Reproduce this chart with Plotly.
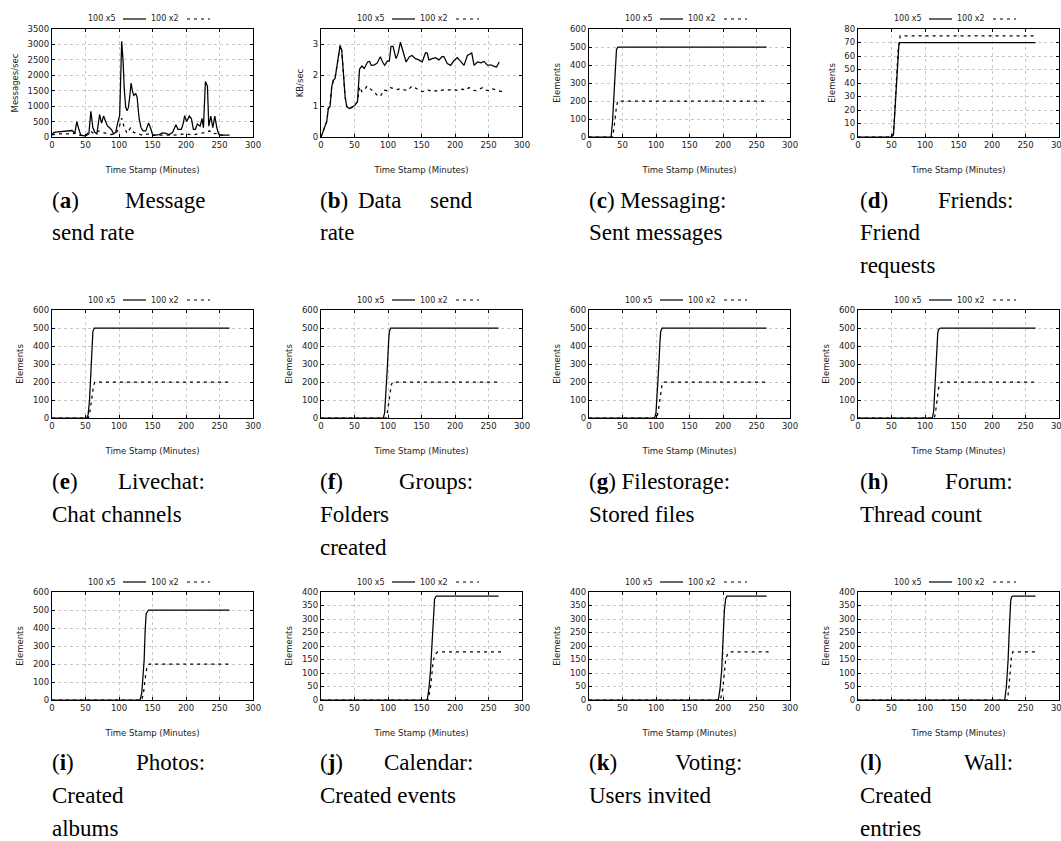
import plotly.graph_objects as go

# ---------------- data ----------------
X_TICKS = [0, 50, 100, 150, 200, 250, 300]
SERIES_NAMES = ["100 x5", "100 x2"]

# (a) Message send rate
a_x5_t = [0, 3, 6, 12, 18, 24, 30, 34, 37, 40,
          43, 48, 52, 55, 58, 61, 64, 67, 71, 74,
          77, 80, 83, 86, 89, 92, 95, 98, 101, 104,
          106, 108, 110, 112, 114, 116, 118, 120, 122, 125,
          127, 130, 133, 136, 140, 144, 147, 150, 155, 160,
          165, 170, 175, 180, 185, 188, 193, 196, 198, 201,
          205, 208, 211, 214, 217, 221, 224, 226, 229, 232,
          234, 237, 240, 243, 246, 249, 255, 265]
a_x5_v = [80, 150, 160, 170, 190, 200, 210, 120, 500, 250,
          60, 40, 60, 100, 830, 300, 150, 100, 730, 450,
          680, 500, 350, 300, 230, 100, 150, 450, 700, 3100,
          2500, 1500, 970, 850, 950, 1300, 1750, 1500, 1350, 1400,
          1300, 600, 300, 200, 200, 450, 300, 80, 60, 80,
          130, 120, 80, 150, 400, 250, 250, 450, 690, 500,
          680, 600, 250, 250, 420, 350, 600, 300, 1800, 1650,
          350, 680, 300, 680, 300, 80, 60, 60]
a_x2_t = [0, 10, 20, 30, 36, 40, 50, 57, 62, 70,
          75, 80, 88, 95, 100, 104, 108, 112, 117, 122,
          128, 135, 145, 150, 160, 170, 180, 190, 200, 210,
          220, 230, 235, 240, 245, 250, 260]
a_x2_v = [70, 100, 100, 100, 130, 60, 50, 200, 120, 200,
          150, 120, 80, 100, 300, 610, 300, 120, 290, 150,
          100, 60, 100, 50, 60, 50, 60, 80, 100, 70,
          100, 150, 200, 100, 120, 60, 50]

# (b) Data send rate
b_x5_t = [0, 8.5, 11, 13.5, 16, 18.5, 21, 23.5, 28.5, 31,
          34.5, 36, 38.5, 42, 46, 51, 54.5, 57.5, 61, 64.5,
          69.5, 72.5, 75, 80, 84, 88.5, 92, 95, 99, 102,
          104.5, 107.5, 112, 115, 118.5, 122.5, 127, 132, 136, 141,
          146, 151, 156, 158.5, 161, 166, 171, 176, 181, 183.5,
          188.5, 193.5, 198.5, 203.5, 208.5, 213.5, 218.5, 222, 225, 228.5,
          233.5, 238.5, 243.5, 248.5, 253.5, 258.5, 262, 266]
b_x5_v = [0, 0.5, 0.93, 0.98, 1.63, 1.84, 1.9, 2.27, 2.97, 2.8,
          1.52, 1.3, 0.98, 0.92, 0.96, 1.04, 1.15, 2.2, 2.3, 2.22,
          2.43, 2.45, 2.32, 2.34, 2.4, 2.6, 2.43, 2.32, 2.46, 2.46,
          2.94, 2.94, 2.54, 2.7, 3.07, 2.75, 2.43, 2.6, 2.64, 2.54,
          2.5, 2.43, 2.73, 2.72, 2.5, 2.54, 2.57, 2.5, 2.61, 2.6,
          2.38, 2.32, 2.48, 2.57, 2.43, 2.32, 2.64, 2.68, 2.72, 2.32,
          2.43, 2.4, 2.45, 2.32, 2.34, 2.29, 2.27, 2.43]
b_x2_t = [0, 8.5, 11, 13.5, 16, 18.5, 21, 23.5, 28.5, 31,
          34.5, 36, 38.5, 42, 46, 51, 54.5, 57.5, 61, 64.5,
          68.5, 73.5, 78.5, 83.5, 88.5, 93.5, 98.5, 103.5, 108.5, 113.5,
          118.5, 123.5, 128.5, 136, 141, 146, 151, 156, 161, 166,
          171, 176, 181, 186, 191, 196, 201, 206, 211, 216,
          221, 226, 231, 236, 241, 246, 251, 256, 261, 266, 270]
b_x2_v = [0, 0.5, 0.93, 0.98, 1.63, 1.84, 1.9, 2.27, 2.97, 2.8,
          1.52, 1.3, 0.98, 0.92, 0.96, 1.04, 1.15, 1.63, 1.47, 1.52,
          1.65, 1.57, 1.47, 1.36, 1.31, 1.52, 1.5, 1.6, 1.57, 1.54,
          1.57, 1.54, 1.5, 1.65, 1.57, 1.52, 1.47, 1.5, 1.52, 1.47,
          1.5, 1.47, 1.52, 1.54, 1.52, 1.55, 1.52, 1.5, 1.55, 1.52,
          1.6, 1.52, 1.5, 1.54, 1.6, 1.52, 1.5, 1.56, 1.52, 1.5, 1.47]

# (c) Messaging: sent messages
c_x5_t = [0, 33, 35, 37, 39, 40, 41, 43, 265]
c_x5_v = [0, 0, 80, 230, 400, 460, 485, 500, 500]
c_x2_t = [0, 35, 37, 39, 41, 43, 265]
c_x2_v = [0, 0, 40, 110, 170, 200, 200]
# (d) Friends: friend requests
d_x5_t = [0, 50, 53, 55, 57, 59, 61, 62, 265]
d_x5_v = [0, 0, 2, 20, 40, 58, 68, 70, 70]
d_x2_t = [0, 50, 52, 54, 56, 58, 60, 62, 63, 265]
d_x2_v = [0, 0, 1, 10, 30, 50, 65, 72, 75, 75]
# (e) Livechat
e_x5_t = [0, 52, 54, 56, 58, 60, 61, 63, 265]
e_x5_v = [0, 0, 20, 100, 250, 420, 480, 500, 500]
e_x2_t = [0, 54, 56, 58, 60, 62, 64, 265]
e_x2_v = [0, 0, 20, 80, 140, 180, 200, 200]
# (f) Groups
f_x5_t = [0, 93, 95, 97, 99, 101, 102, 104, 265]
f_x5_v = [0, 0, 30, 130, 280, 430, 480, 500, 500]
f_x2_t = [0, 97, 99, 101, 103, 105, 107, 265]
f_x2_v = [0, 0, 30, 90, 150, 185, 200, 200]
# (g) Filestorage
g_x5_t = [0, 98, 100, 102, 104, 106, 107, 109, 265]
g_x5_v = [0, 0, 30, 130, 280, 430, 480, 500, 500]
g_x2_t = [0, 101, 103, 105, 107, 109, 111, 265]
g_x2_v = [0, 0, 30, 90, 150, 185, 200, 200]
# (h) Forum
h_x5_t = [0, 111, 113, 115, 117, 119, 120, 123, 265]
h_x5_v = [0, 0, 40, 170, 370, 470, 490, 500, 500]
h_x2_t = [0, 114, 116, 118, 120, 122, 125, 265]
h_x2_v = [0, 0, 40, 110, 160, 190, 200, 200]
# (i) Photos
i_x5_t = [0, 131.5, 134, 136, 137.5, 139, 140.5, 144, 265]
i_x5_v = [0, 0, 40, 140, 221, 380, 480, 500, 500]
i_x2_t = [0, 134, 136.5, 138, 140, 142, 145, 265]
i_x2_v = [0, 0, 37, 90, 148, 185, 200, 200]
# (j) Calendar
j_x5_t = [0, 158.5, 161, 163.5, 165.5, 167.5, 169.5, 172, 265]
j_x5_v = [0, 0, 40, 110, 200, 306, 373, 385, 385]
j_x2_t = [0, 159.5, 161.5, 163.5, 165.5, 167.5, 171, 174, 270]
j_x2_v = [0, 0, 20, 49, 95, 147, 171, 178, 178]
# (k) Voting
k_x5_t = [0, 193, 195.5, 198, 200, 202, 204, 206, 265]
k_x5_v = [0, 0, 40, 110, 220, 330, 375, 385, 385]
k_x2_t = [0, 196, 198, 200, 202, 204, 207, 210, 270]
k_x2_v = [0, 0, 20, 50, 100, 150, 172, 178, 178]
# (l) Wall
l_x5_t = [0, 219, 221.5, 224, 226, 228, 229.5, 231, 265]
l_x5_v = [0, 0, 50, 147, 270, 370, 383, 385, 385]
l_x2_t = [0, 223, 225, 226.5, 228, 229, 231, 233, 266]
l_x2_v = [0, 0, 40, 98, 135, 159, 178, 178, 178]

Y_TITLES = ["Messages/sec", "KB/sec"] + ["Elements"] * 10
Y_RANGES = [3500, 3.5, 600, 80, 600, 600, 600, 600, 600, 400, 400, 400]
Y_DTICKS = [500, 1, 100, 10, 100, 100, 100, 100, 100, 50, 50, 50]

# caption lines: a line with several items is justified, a single item is set naturally
CAPTIONS = [
    [["(<b>a</b>)", "Message"], ["send rate"]],
    [["(<b>b</b>)", "Data", "send"], ["rate"]],
    [["(<b>c</b>) Messaging:"], ["Sent messages"]],
    [["(<b>d</b>)", "Friends:"], ["Friend"], ["requests"]],
    [["(<b>e</b>)", "Livechat:"], ["Chat channels"]],
    [["(<b>f</b>)", "Groups:"], ["Folders"], ["created"]],
    [["(<b>g</b>) Filestorage:"], ["Stored files"]],
    [["(<b>h</b>)", "Forum:"], ["Thread count"]],
    [["(<b>i</b>)", "Photos:"], ["Created"], ["albums"]],
    [["(<b>j</b>)", "Calendar:"], ["Created events"]],
    [["(<b>k</b>)", "Voting:"], ["Users invited"]],
    [["(<b>l</b>)", "Wall:"], ["Created"], ["entries"]],
]

PANELS = [
    (a_x5_t, a_x5_v, a_x2_t, a_x2_v), (b_x5_t, b_x5_v, b_x2_t, b_x2_v),
    (c_x5_t, c_x5_v, c_x2_t, c_x2_v), (d_x5_t, d_x5_v, d_x2_t, d_x2_v),
    (e_x5_t, e_x5_v, e_x2_t, e_x2_v), (f_x5_t, f_x5_v, f_x2_t, f_x2_v),
    (g_x5_t, g_x5_v, g_x2_t, g_x2_v), (h_x5_t, h_x5_v, h_x2_t, h_x2_v),
    (i_x5_t, i_x5_v, i_x2_t, i_x2_v), (j_x5_t, j_x5_v, j_x2_t, j_x2_v),
    (k_x5_t, k_x5_v, k_x2_t, k_x2_v), (l_x5_t, l_x5_v, l_x2_t, l_x2_v),
]

# ---------------- layout geometry (pixels) ----------------
W, H = 1061, 841
COL_L = [52, 321, 589, 858]
PLOT_W = 201
ROW_T = [29, 310, 592]
PLOT_H = 108
CAP_L = [50, 318, 587, 858]
CAP_W = 157
CAP_Y0 = [200, 481, 762]
CAP_DY = 33


def px(x):
    return x / W


def py(y):
    return 1 - y / H


SANS = "DejaVu Sans"
SERIF = "Liberation Serif"
TXT = "#222222"

fig = go.Figure()
annotations = []
shapes = []

for idx, (t5, v5, t2, v2) in enumerate(PANELS):
    n = idx + 1
    r, c = divmod(idx, 4)
    xa = "x" if n == 1 else f"x{n}"
    ya = "y" if n == 1 else f"y{n}"
    fig.add_trace(go.Scatter(x=t5, y=v5, mode="lines", name=SERIES_NAMES[0],
                             xaxis=xa, yaxis=ya,
                             line=dict(color="black", width=1.25)))
    fig.add_trace(go.Scatter(x=t2, y=v2, mode="lines", name=SERIES_NAMES[1],
                             xaxis=xa, yaxis=ya,
                             line=dict(color="black", width=1.25, dash="3px,4px")))
    l, t = COL_L[c], ROW_T[r]
    common = dict(showline=True, linecolor="black", linewidth=1.3, mirror="allticks",
                  ticks="inside", ticklen=3, tickcolor="black", tickwidth=1,
                  showgrid=True, gridcolor="#c8c8c8", griddash="dot", gridwidth=0.8,
                  zeroline=False, fixedrange=True,
                  tickfont=dict(family=SANS, size=8.5, color=TXT))
    fig.layout[f"xaxis{n}" if n > 1 else "xaxis"] = dict(
        common, domain=[px(l), px(l + PLOT_W)], range=[0, 300],
        tickvals=X_TICKS, anchor=ya, automargin=False, ticklabeloverflow="allow",
        title=dict(text="Time Stamp (Minutes)", standoff=17,
                   font=dict(family=SANS, size=8.5, color=TXT)))
    fig.layout[f"yaxis{n}" if n > 1 else "yaxis"] = dict(
        common, domain=[py(t + PLOT_H), py(t)], range=[0, Y_RANGES[idx]],
        dtick=Y_DTICKS[idx], tick0=0, anchor=xa, automargin=False,
        title=dict(text=Y_TITLES[idx], standoff=7,
                   font=dict(family=SANS, size=8.5, color=TXT)))

    # legend (text followed by line sample, gnuplot style)
    ly = py(t - 10)
    for k, (txt_end, s0, s1, dash) in enumerate([(66, 71, 94, None), (129, 135, 158, "3px,4px")]):
        annotations.append(dict(text=SERIES_NAMES[k], x=px(l + txt_end), y=ly,
                                xref="paper", yref="paper", xanchor="right", yanchor="middle",
                                showarrow=False, font=dict(family=SANS, size=8, color=TXT)))
        shapes.append(dict(type="line", xref="paper", yref="paper",
                           x0=px(l + s0), x1=px(l + s1), y0=ly, y1=ly,
                           line=dict(color="black", width=1.2, dash=dash or "solid")))

    # caption
    L, R = CAP_L[c], CAP_L[c] + CAP_W
    for li, words in enumerate(CAPTIONS[idx]):
        yy = py(CAP_Y0[r] + li * CAP_DY)
        cf = dict(family=SERIF, size=23, color="black")
        annotations.append(dict(text=words[0], x=px(L), y=yy, xref="paper", yref="paper",
                                xanchor="left", yanchor="middle", showarrow=False, font=cf))
        if len(words) > 1:
            annotations.append(dict(text=words[-1], x=px(R), y=yy, xref="paper", yref="paper",
                                    xanchor="right", yanchor="middle", showarrow=False, font=cf))
            for w in words[1:-1]:
                annotations.append(dict(text=w, x=px(L + 0.39 * CAP_W), y=yy, xref="paper",
                                        yref="paper", xanchor="center", yanchor="middle",
                                        showarrow=False, font=cf))

fig.update_layout(width=W, height=H, margin=dict(l=0, r=0, t=0, b=0),
                  paper_bgcolor="white", plot_bgcolor="white", showlegend=False,
                  hovermode=False, annotations=annotations, shapes=shapes)

fig.write_html("out.html", config={"displayModeBar": False},
               post_script="document.body.style.margin='0';document.body.style.overflow='hidden';")
